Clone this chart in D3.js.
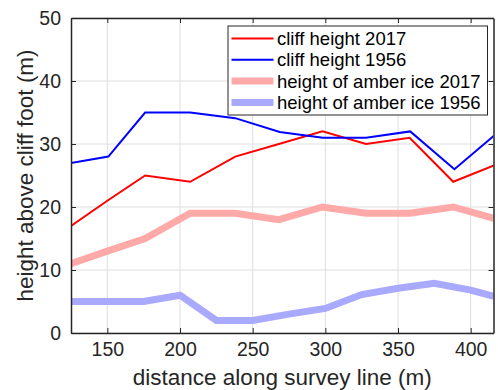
<!DOCTYPE html>
<html>
<head>
<meta charset="utf-8">
<script src="https://cdn.jsdelivr.net/npm/d3@7"></script>
<style>
  body { margin: 0; background: #fff; }
  svg { display: block; font-family: "Liberation Sans", Arial, sans-serif; }
</style>
</head>
<body>
<svg id="chart" width="498" height="390"></svg>
<script>
// ---- data ----
const cliff2017X = [125, 150, 176, 207, 238, 268, 298, 328, 358, 388, 416];
const cliff2017Y = [17, 21, 25, 24, 28, 30, 32, 30, 31, 24, 26.6];
const cliff1956X = [125, 150.7, 176, 207, 238, 268.6, 298.3, 328, 358.4, 388.8, 416];
const cliff1956Y = [27, 28, 35, 35, 34.1, 31.9, 31, 31, 32, 26, 31.3];
const amber2017X = [125, 150, 176, 207, 238, 268, 298, 328, 358, 388, 416];
const amber2017Y = [11, 13, 15, 19, 19, 18, 20, 19, 19, 20, 18.2];
const amber1956X = [125, 150, 175, 200, 225, 250, 275, 300, 325, 350, 375, 400, 416];
const amber1956Y = [5, 5, 5, 6, 2, 2, 3, 3.9, 6.1, 7.1, 7.9, 6.8, 5.8];
const xTicks = [150, 200, 250, 300, 350, 400];
const yTicks = [0, 10, 20, 30, 40, 50];
const legendLabels = ["cliff height 2017", "cliff height 1956", "height of amber ice 2017", "height of amber ice 1956"];

// ---- layout ----
const svg = d3.select("#chart");
const L = 71, R = 493.5, T = 18, B = 333;
const x = d3.scaleLinear().domain([125, 415.7]).range([L, R]);
const y = d3.scaleLinear().domain([0, 50]).range([B, T]);
const axisColor = "#262626";

// grid
const g = svg.append("g");
g.selectAll(".gx").data(xTicks).enter().append("line")
  .attr("x1", d => x(d)).attr("x2", d => x(d)).attr("y1", T).attr("y2", B)
  .attr("stroke", "#dedede").attr("stroke-width", 1);
g.selectAll(".gy").data(yTicks).enter().append("line")
  .attr("x1", L).attr("x2", R).attr("y1", d => y(d)).attr("y2", d => y(d))
  .attr("stroke", "#dedede").attr("stroke-width", 1);

// series
const series = [
  {xs: amber2017X, ys: amber2017Y, color: "#ffa9a9", w: 7},
  {xs: amber1956X, ys: amber1956Y, color: "#a9a9ff", w: 7},
  {xs: cliff2017X, ys: cliff2017Y, color: "#ff0000", w: 2},
  {xs: cliff1956X, ys: cliff1956Y, color: "#0000ff", w: 2}
];
const line = d3.line().x(d => x(d[0])).y(d => y(d[1]));
const clip = svg.append("clipPath").attr("id", "clip").append("rect")
  .attr("x", L).attr("y", T).attr("width", R - L).attr("height", B - T);
series.forEach(s => {
  svg.append("path").datum(s.xs.map((v, i) => [v, s.ys[i]]))
    .attr("d", line).attr("fill", "none").attr("stroke", s.color)
    .attr("stroke-width", s.w).attr("stroke-linejoin", "miter")
    .attr("clip-path", "url(#clip)");
});

// axes
const fs = 19.5;
const xAxisB = d3.axisBottom(x).tickValues(xTicks).tickSize(-5).tickPadding(9);
const xAxisT = d3.axisTop(x).tickValues(xTicks).tickSize(-5).tickFormat("");
const yAxisL = d3.axisLeft(y).tickValues(yTicks).tickSize(-5).tickPadding(10);
const yAxisR = d3.axisRight(y).tickValues(yTicks).tickSize(-5).tickFormat("");
function style(sel) {
  sel.selectAll("path").attr("stroke", axisColor).attr("stroke-width", 1.5);
  sel.selectAll("line").attr("stroke", axisColor).attr("stroke-width", 1);
  sel.selectAll("text").attr("fill", "#262626").style("font-size", fs + "px")
    .style("font-family", "'Liberation Sans', Arial, sans-serif");
}
svg.append("g").attr("transform", `translate(0,${B})`).call(xAxisB.tickSizeOuter(0)).call(style);
svg.append("g").attr("transform", `translate(0,${T})`).call(xAxisT.tickSizeOuter(0)).call(style);
svg.append("g").attr("transform", `translate(${L},0)`).call(yAxisL.tickSizeOuter(0)).call(style);
svg.append("g").attr("transform", `translate(${R},0)`).call(yAxisR.tickSizeOuter(0)).call(style);

// axis labels
svg.append("text").attr("x", (L + R) / 2).attr("y", 385).attr("text-anchor", "middle")
  .style("font-size", "22.5px").attr("fill", "#262626").text("distance along survey line (m)");
svg.append("text").attr("transform", `translate(33,${(T + B) / 2}) rotate(-90)`)
  .attr("text-anchor", "middle").style("font-size", "22.5px").attr("fill", "#262626")
  .text("height above cliff foot (m)");

// legend
const lg = svg.append("g");
lg.append("rect").attr("x", 228).attr("y", 26).attr("width", 259.5).attr("height", 89)
  .attr("fill", "#fff").attr("stroke", axisColor).attr("stroke-width", 1);
const legendStyles = [series[2], series[3], series[0], series[1]];
legendLabels.forEach((lab, i) => {
  const cy = 38.5 + i * 21.3;
  lg.append("line").attr("x1", 231.5).attr("x2", 273.5).attr("y1", cy).attr("y2", cy)
    .attr("stroke", legendStyles[i].color).attr("stroke-width", legendStyles[i].w);
  lg.append("text").attr("x", 277).attr("y", cy).attr("dy", "0.35em")
    .style("font-size", "18.5px").attr("fill", "#000").text(lab);
});
</script>
</body>
</html>
